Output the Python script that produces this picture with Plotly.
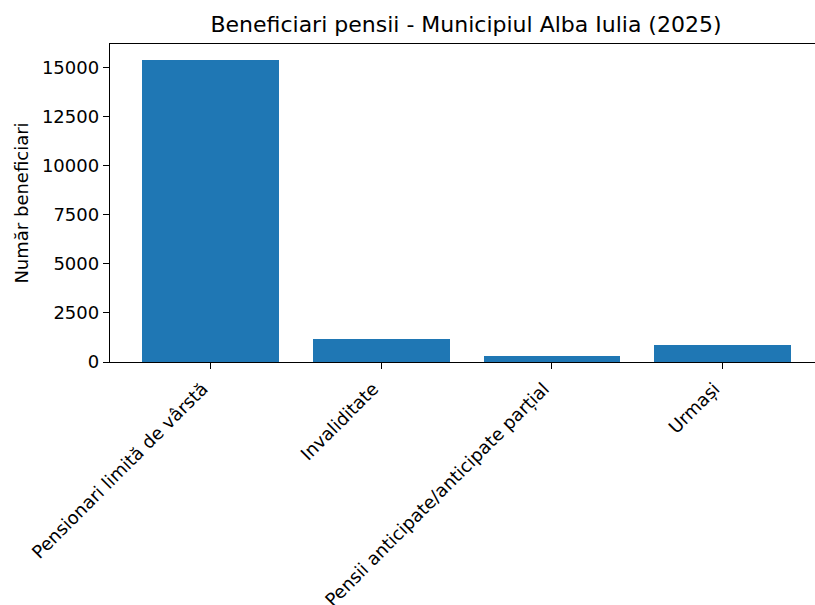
import plotly.graph_objects as go

categories = ["Pensionari limită de vârstă", "Invaliditate",
              "Pensii anticipate/anticipate parțial", "Urmași"]
values = [15430, 1190, 290, 880]
y_ticks = [0, 2500, 5000, 7500, 10000, 12500, 15000]

W, H = 815, 605
FONT = "DejaVu Sans"

fig = go.Figure(go.Bar(
    x=list(range(len(categories))), y=values, width=0.8,
    marker=dict(color="#1f77b4", line=dict(width=0)),
))

fig.update_layout(
    width=W, height=H, autosize=False,
    margin=dict(l=110, r=0, t=44, b=243, pad=0),
    paper_bgcolor="white", plot_bgcolor="white",
    font=dict(family=FONT, size=18, color="black"),
    showlegend=False,
    title=dict(text="Beneficiari pensii - Municipiul Alba Iulia (2025)",
               font=dict(family=FONT, size=22, color="black"),
               xref="container", x=466 / W, xanchor="center",
               yref="container", y=1 - 17 / H, yanchor="top",
               automargin=False),
    bargap=0,
)

fig.update_xaxes(
    range=[-0.59, 3.542], automargin=False,
    tickmode="array", tickvals=list(range(len(categories))), ticktext=categories,
    tickangle=-45, ticklabelshift=-8, ticklabelstandoff=2,
    ticks="outside", ticklen=6, tickwidth=1.4, tickcolor="black",
    showline=True, linecolor="black", linewidth=1.4, mirror=True,
    showgrid=False, zeroline=False,
    tickfont=dict(family=FONT, size=18, color="black"),
)
fig.update_yaxes(
    range=[0, 16222], automargin=False,
    tickmode="array", tickvals=y_ticks, ticktext=[str(v) for v in y_ticks],
    ticks="outside", ticklen=6, tickwidth=1.4, tickcolor="black",
    showline=True, linecolor="black", linewidth=1.4, mirror=False,
    showgrid=False, zeroline=False,
    tickfont=dict(family=FONT, size=18, color="black"),
    title=dict(text="Număr beneficiari", font=dict(family=FONT, size=18, color="black"),
               standoff=8),
)

post = ("document.body.style.margin='0';document.body.style.overflow='hidden';"
        "var gd=document.getElementById('{plot_id}');"
        "Plotly.relayout(gd,{width:815,height:605});")
fig.write_html("out.html", post_script=post,
               config={"responsive": False, "displayModeBar": False})
